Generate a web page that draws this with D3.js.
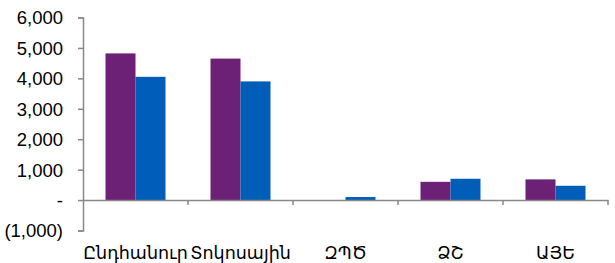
<!DOCTYPE html>
<html>
<head>
<meta charset="utf-8">
<script src="https://cdn.jsdelivr.net/npm/d3@7"></script>
<style>
  body { margin: 0; background: #fff; }
  svg text { font-family: Arial, "Liberation Sans", "DejaVu Sans", sans-serif; fill: #000; }
</style>
</head>
<body>
<div id="chart"></div>
<script>
let categories = ["Ընդհանուր", "Տոկոսային", "ԶՊԾ", "ՁՇ", "ԱՅԵ"];
let series1 = [4820, 4650, 0, 600, 680];
let series2 = [4050, 3900, 100, 700, 470];
let yTicks = [-1000, 0, 1000, 2000, 3000, 4000, 5000, 6000];

let WIDTH = 615, HEIGHT = 263;
let COLORS = ["#6c2177", "#005eb8"];

let svg = d3.select("#chart").append("svg").attr("width", WIDTH).attr("height", HEIGHT);

let x = d3.scaleBand().domain(categories).range([83, 608]).paddingInner(0).paddingOuter(0);
let y = d3.scaleLinear().domain([-1000, 6000]).range([230.5, 17.5]);
let barW = 30;

function fmt(v) {
  if (v === 0) return "-";
  if (v < 0) return "(" + d3.format(",")(-v) + ")";
  return d3.format(",")(v);
}

// y axis
let yAxis = svg.append("g").attr("transform", "translate(83,0)")
  .call(d3.axisLeft(y).tickValues(yTicks).tickSize(5).tickPadding(15).tickFormat(fmt));
yAxis.select(".domain").attr("stroke", "#888").attr("stroke-width", 1.5);
yAxis.selectAll(".tick line").attr("stroke", "#888").attr("stroke-width", 1.5);
yAxis.selectAll(".tick text").style("font-size", "18.5px").attr("dy", "0.35em");

// bars
let data = categories.map(function(c, i) { return {cat: c, vals: [series1[i], series2[i]]}; });
data.forEach(function(d) {
  let cx = x(d.cat) + x.bandwidth() / 2;
  d.vals.forEach(function(v, j) {
    if (v === 0) return;
    svg.append("rect")
      .attr("x", cx - barW + j * barW)
      .attr("y", y(Math.max(v, 0)))
      .attr("width", barW)
      .attr("height", Math.abs(y(v) - y(0)))
      .attr("fill", COLORS[j]);
  });
});

// x axis at zero
let xAxis = svg.append("g").attr("transform", "translate(0," + y(0) + ")")
  .call(d3.axisBottom(x).tickSize(0).tickFormat(""));
xAxis.select(".domain").attr("stroke", "#888").attr("stroke-width", 1.5);
svg.selectAll(".xtick").data(categories.map(function(c) { return x(c) + x.bandwidth(); }))
  .enter().append("line")
  .attr("x1", function(d) { return d; }).attr("x2", function(d) { return d; })
  .attr("y1", y(0)).attr("y2", y(0) + 5)
  .attr("stroke", "#888").attr("stroke-width", 1.5);

// category labels
svg.selectAll(".cat").data(categories).enter().append("text")
  .attr("x", function(d) { return x(d) + x.bandwidth() / 2; })
  .attr("y", 259)
  .attr("text-anchor", "middle")
  .style("font-size", "17.5px")
  .text(function(d) { return d; });
</script>
</body>
</html>
